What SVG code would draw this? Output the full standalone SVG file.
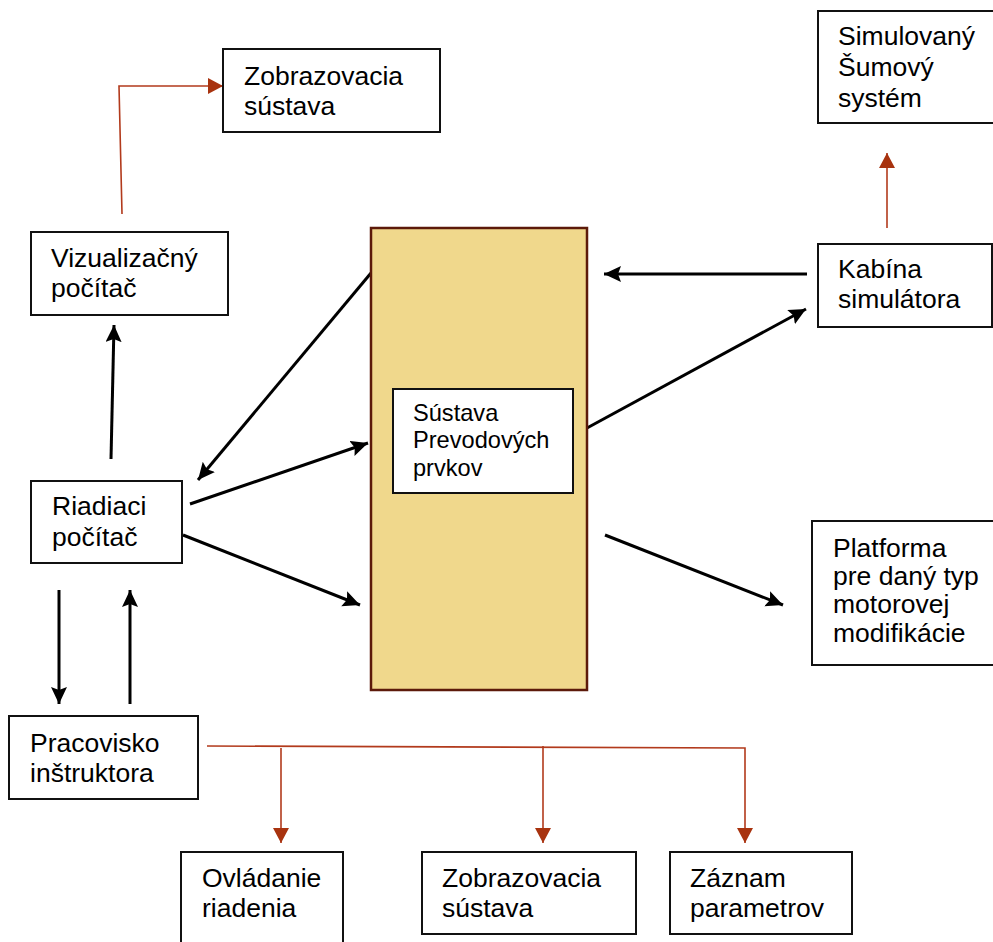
<svg xmlns="http://www.w3.org/2000/svg" width="993" height="942" viewBox="0 0 993 942">
<style>
.box{fill:#fff;stroke:#111;stroke-width:2}
.t{font-family:"Liberation Sans",Arial,sans-serif;font-size:26.5px;fill:#000}
.ts{font-family:"Liberation Sans",Arial,sans-serif;font-size:23.6px;fill:#000}
.blk{stroke:#000;stroke-width:3;fill:none}
.red{stroke:#b23a1c;stroke-width:1.6;fill:none}
</style>
<defs>
<marker id="ab" markerUnits="userSpaceOnUse" markerWidth="18" markerHeight="18" refX="17" refY="8" orient="auto">
<path d="M0,0 L17,8 L0,16 L3,8 z" fill="#000"/>
</marker>
<marker id="ar" markerUnits="userSpaceOnUse" markerWidth="17" markerHeight="17" refX="15" refY="8" orient="auto">
<path d="M0,0 L15,8 L0,16 z" fill="#a8330f"/>
</marker>
</defs>
<g id="connectors">
<line class="blk" x1="807" y1="274" x2="604" y2="274" marker-end="url(#ab)"/>
<line class="blk" x1="587" y1="428" x2="806" y2="309" marker-end="url(#ab)"/>
<line class="blk" x1="371" y1="273" x2="198" y2="480" marker-end="url(#ab)"/>
<line class="blk" x1="190" y1="504" x2="368" y2="443" marker-end="url(#ab)"/>
<line class="blk" x1="183" y1="535" x2="360" y2="605" marker-end="url(#ab)"/>
<line class="blk" x1="605" y1="535" x2="783" y2="605" marker-end="url(#ab)"/>
<line class="blk" x1="111" y1="459" x2="114" y2="325" marker-end="url(#ab)"/>
<line class="blk" x1="59" y1="590" x2="59" y2="704" marker-end="url(#ab)"/>
<line class="blk" x1="130" y1="704" x2="130" y2="590" marker-end="url(#ab)"/>
<path class="red" d="M122,214 L119,86 L223,86" marker-end="url(#ar)"/>
<path class="red" d="M887,228 L887,153" marker-end="url(#ar)"/>
<path class="red" d="M207,746 L745,748 L745,843" marker-end="url(#ar)"/>
<path class="red" d="M281,748 L281,843" marker-end="url(#ar)"/>
<path class="red" d="M543,746 L543,843" marker-end="url(#ar)"/>
</g>
<g id="zobrazovacia-top">
<rect class="box" x="223" y="49" width="217" height="83"/>
<text class="t"><tspan x="244" y="85">Zobrazovacia</tspan><tspan x="244" y="115">sústava</tspan></text>
</g>
<g id="vizualizacny">
<rect class="box" x="31" y="232" width="197" height="83"/>
<text class="t"><tspan x="51" y="267">Vizualizačný</tspan><tspan x="51" y="297">počítač</tspan></text>
</g>
<g id="sustava-center">
<rect x="371" y="228" width="216" height="462" fill="#f0d88c" stroke="#5c1a0a" stroke-width="2.5"/>
</g>
<g id="sustava-prevodovych">
<rect class="box" x="393" y="389" width="180" height="104"/>
<text class="ts"><tspan x="413" y="421">Sústava</tspan><tspan x="413" y="448">Prevodových</tspan><tspan x="413" y="476">prvkov</tspan></text>
</g>
<g id="simulovany">
<rect class="box" x="818" y="11" width="190" height="112"/>
<text class="t"><tspan x="838" y="45">Simulovaný</tspan><tspan x="838" y="76">Šumový</tspan><tspan x="838" y="107">systém</tspan></text>
</g>
<g id="kabina">
<rect class="box" x="818" y="244" width="174" height="83"/>
<text class="t"><tspan x="838" y="278">Kabína</tspan><tspan x="838" y="308">simulátora</tspan></text>
</g>
<g id="riadiaci">
<rect class="box" x="31" y="481" width="151" height="82"/>
<text class="t"><tspan x="52" y="515">Riadiaci</tspan><tspan x="52" y="546">počítač</tspan></text>
</g>
<g id="platforma">
<rect class="box" x="812" y="521" width="196" height="144"/>
<text class="t"><tspan x="833" y="557">Platforma</tspan><tspan x="833" y="585">pre daný typ</tspan><tspan x="833" y="613">motorovej</tspan><tspan x="833" y="642">modifikácie</tspan></text>
</g>
<g id="pracovisko">
<rect class="box" x="9" y="716" width="189" height="83"/>
<text class="t"><tspan x="30" y="752">Pracovisko</tspan><tspan x="30" y="782">inštruktora</tspan></text>
</g>
<g id="ovladanie">
<rect class="box" x="181" y="852" width="162" height="100"/>
<text class="t"><tspan x="202" y="887">Ovládanie</tspan><tspan x="202" y="917">riadenia</tspan></text>
</g>
<g id="zobrazovacia-bottom">
<rect class="box" x="422" y="852" width="214" height="82"/>
<text class="t"><tspan x="442" y="887">Zobrazovacia</tspan><tspan x="442" y="917">sústava</tspan></text>
</g>
<g id="zaznam">
<rect class="box" x="670" y="852" width="182" height="82"/>
<text class="t"><tspan x="690" y="887">Záznam</tspan><tspan x="690" y="917">parametrov</tspan></text>
</g>
</svg>
